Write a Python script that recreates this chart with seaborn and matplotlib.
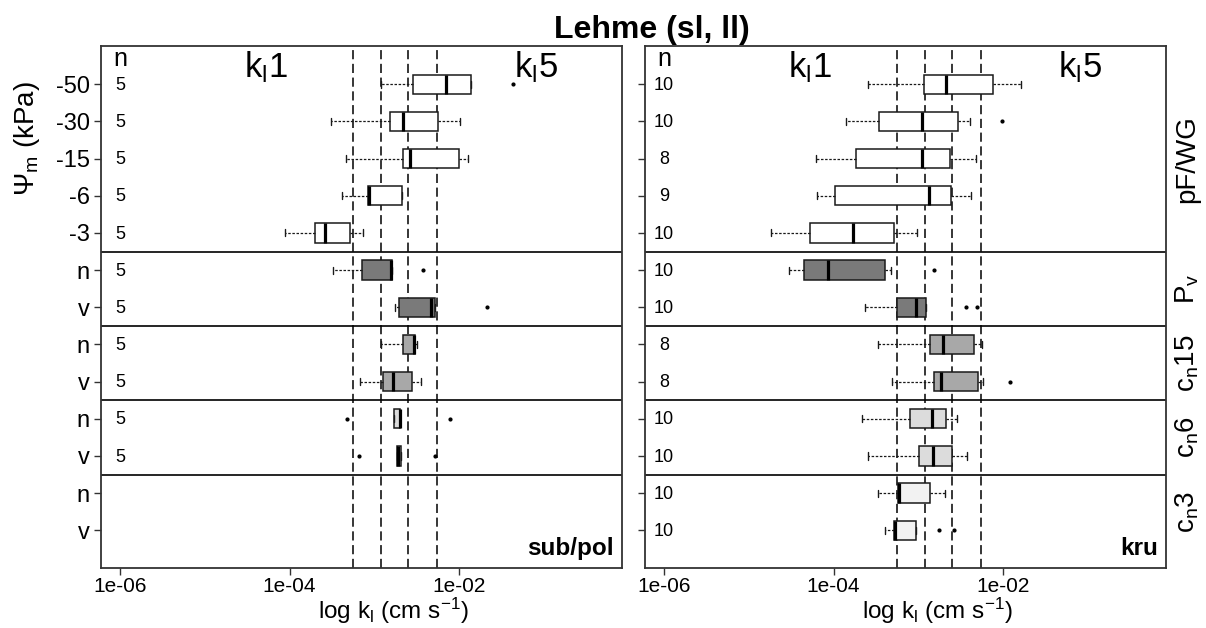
import numpy as np
import pandas as pd
import seaborn as sns
import matplotlib
matplotlib.use("Agg")
import matplotlib.pyplot as plt
from matplotlib.ticker import NullLocator

# -----------------------------
# Data (log10 of k_l in cm/s)
# -----------------------------
row_ids = ['-50', '-30', '-15', '-6', '-3', 'Pv_n', 'Pv_v',
           'c15_n', 'c15_v', 'c6_n', 'c6_v', 'c3_n', 'c3_v']
row_labels = ['-50', '-30', '-15', '-6', '-3', 'n', 'v', 'n', 'v', 'n', 'v', 'n', 'v']
row_colors = ['#ffffff'] * 5 + ['#7a7a7a'] * 2 + ['#a8a8a8'] * 2 + ['#dcdcdc'] * 2 + ['#f2f2f2'] * 2

# sub/pol
left_logk = [
    [-2.918, -2.545, -2.156, -1.856, -1.365],
    [-3.508, -2.812, -2.663, -2.254, -1.986],
    [-3.331, -2.663, -2.584, -1.998, -1.891],
    [-3.378, -3.076, -3.064, -2.675, -2.675],
    [-4.051, -3.701, -3.587, -3.286, -3.133],
    [-3.489, -3.150, -2.808, -2.796, -2.427],
    [-2.761, -2.710, -2.328, -2.281, -1.672],
    [-2.918, -2.658, -2.529, -2.521, -2.493],
    [-3.170, -2.894, -2.781, -2.560, -2.451],
    [-3.319, -2.769, -2.702, -2.694, -2.112],
    [-3.186, -2.734, -2.717, -2.687, -2.285],
    [],
    [],
]

# kru
right_logk = [
    [-3.596, -3.21, -2.939, -2.939, -2.680, -2.680, -2.123, -2.123, -1.95, -1.793],
    [-3.850, -3.60, -3.461, -3.461, -2.963, -2.963, -2.527, -2.527, -2.394, -2.011],
    [-4.204, -3.733, -3.733, -2.959, -2.959, -2.629, -2.629, -2.323],
    [-4.197, -4.10, -3.988, -3.40, -2.869, -2.75, -2.613, -2.50, -2.377],
    [-4.734, -4.50, -4.283, -4.283, -3.773, -3.773, -3.289, -3.289, -3.10, -3.018],
    [-4.530, -4.45, -4.350, -4.350, -4.071, -4.071, -3.391, -3.391, -3.325, -2.818],
    [-3.626, -3.40, -3.254, -3.254, -3.034, -3.034, -2.908, -2.908, -2.441, -2.311],
    [-3.478, -2.860, -2.860, -2.704, -2.704, -2.350, -2.350, -2.244],
    [-3.313, -2.813, -2.813, -2.739, -2.739, -2.315, -2.240, -1.920],
    [-3.662, -3.35, -3.101, -3.101, -2.841, -2.841, -2.676, -2.676, -2.60, -2.547],
    [-3.591, -3.30, -2.995, -2.995, -2.825, -2.825, -2.609, -2.609, -2.50, -2.429],
    [-3.481, -3.35, -3.238, -3.238, -3.230, -3.230, -2.860, -2.860, -2.75, -2.688],
    [-3.391, -3.33, -3.293, -3.293, -3.273, -3.273, -3.025, -3.025, -2.759, -2.582],
]

kl_breaks = [-3.257, -2.918, -2.600, -2.257]
group_breaks = [4.5, 6.5, 8.5, 10.5]
strip_labels = ['pF/WG', r'$\mathrm{P_v}$', r'$\mathrm{c_n15}$', r'$\mathrm{c_n6}$', r'$\mathrm{c_n3}$']
strip_pos = [2, 5.5, 7.5, 9.5, 11.5]
panel_names = ['sub/pol', 'kru']
xticks = [1e-6, 1e-4, 1e-2]
xtick_labels = ['1e-06', '1e-04', '1e-02']

# -----------------------------
# Style
# -----------------------------
sns.set_style("ticks")
plt.rcParams['font.family'] = ['Liberation Sans', 'DejaVu Sans']
plt.rcParams['mathtext.fontset'] = 'custom'
plt.rcParams['mathtext.rm'] = 'Liberation Sans'
plt.rcParams['mathtext.it'] = 'Liberation Sans:italic'
plt.rcParams['mathtext.bf'] = 'Liberation Sans:bold'
for key in ['text.color', 'axes.labelcolor', 'xtick.color', 'ytick.color']:
    plt.rcParams[key] = 'black'

W, H = 1206, 628
fig = plt.figure(figsize=(W / 100, H / 100), dpi=100)
ax_l = fig.add_axes([101 / W, 1 - 567.5 / H, 521 / W, 521.5 / H])
ax_r = fig.add_axes([645 / W, 1 - 567.5 / H, 521 / W, 521.5 / H])
palette = dict(zip(row_ids, row_colors))


def to_frame(vals):
    recs = []
    for rid, v in zip(row_ids, vals):
        for x in v:
            recs.append((rid, 10 ** x))
    return pd.DataFrame(recs, columns=['row', 'k'])


def draw_panel(ax, vals, name, show_labels):
    df = to_frame(vals)
    sns.boxplot(data=df, x='k', y='row', order=row_ids, hue='row', palette=palette,
                legend=False, width=0.52, saturation=1, linecolor='#1a1a1a',
                linewidth=1.1, fliersize=2.0, whis=1.5, capwidths=0.19,
                whiskerprops=dict(linestyle=(0, (2, 1.3)), linewidth=0.9),
                medianprops=dict(color='black', linewidth=2.3),
                capprops=dict(linewidth=1.0),
                flierprops=dict(marker='o', markerfacecolor='black', markeredgecolor='black'),
                ax=ax)
    # stats are taken on the raw values, the axis is made log afterwards
    ax.set_xscale('log')
    ax.set_xlim(10 ** -6.224, 10 ** -0.08)
    ax.set_ylim(13.0, -1.03)

    for b in kl_breaks:
        ax.axvline(10 ** b, color='black', lw=1.1, ls=(0, (6, 3)), zorder=0)
    for g in group_breaks:
        ax.axhline(g, color='black', lw=1.2, zorder=0)

    ax.set_xticks(xticks)
    ax.set_xticklabels(xtick_labels, fontsize=15)
    ax.xaxis.set_minor_locator(NullLocator())
    ax.set_yticks(range(len(row_ids)))
    if show_labels:
        ax.set_yticklabels(row_labels, fontsize=17)
    else:
        ax.set_yticklabels([])
    ax.tick_params(direction='out', length=5, width=1, color='#333333', pad=3)
    ax.tick_params(axis='x', pad=2)
    for s in ax.spines.values():
        s.set_visible(True)
        s.set_color('#333333')
        s.set_linewidth(1.3)

    ax.set_ylabel('')
    ax.set_xlabel(r'log $\mathrm{k_l}$ (cm $\mathrm{s^{-1}}$)', fontsize=17.5)
    ax.xaxis.set_label_coords(0.562, -0.054)

    # n column
    ax.text(1e-6, -0.68, 'n', ha='center', va='center', fontsize=18)
    for i, v in enumerate(vals):
        if len(v) > 0:
            ax.text(1e-6, i + 0.03, str(len(v)), ha='center', va='center', fontsize=13)

    ax.text(10 ** -4.28, -0.19, r'$\mathrm{k_l1}$', ha='center', va='baseline', fontsize=25)
    ax.text(10 ** -1.10, -0.19, r'$\mathrm{k_l5}$', ha='center', va='baseline', fontsize=25)
    ax.text(0.985, 0.014, name, transform=ax.transAxes, ha='right', va='bottom',
            fontsize=17.5, fontweight='bold')


draw_panel(ax_l, left_logk, panel_names[0], True)
draw_panel(ax_r, right_logk, panel_names[1], False)

# strip labels on the right
tr = matplotlib.transforms.blended_transform_factory(ax_r.transAxes, ax_r.transData)
for lab, yp in zip(strip_labels, strip_pos):
    ax_r.text(1.04, yp, lab, transform=tr, rotation=90, ha='center', va='center', fontsize=20)

fig.text(27 / W, 1 - 138.5 / H, r'$\mathrm{\Psi_m}$ (kPa)', rotation=90,
         ha='center', va='center', fontsize=20)
fig.text(652 / W, 1 - 30 / H, 'Lehme (sl, ll)', ha='center', va='center',
         fontsize=23, fontweight='bold')

fig.savefig("out.png", dpi=100)
